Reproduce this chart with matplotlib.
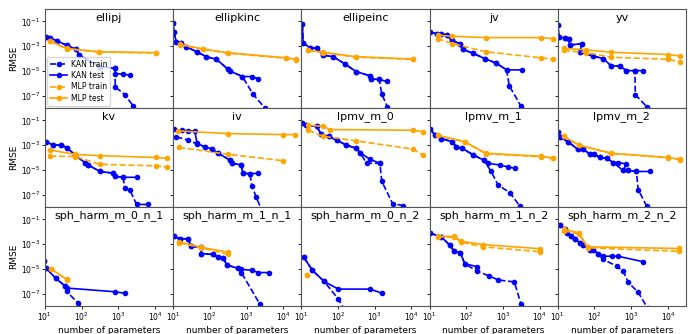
import matplotlib.pyplot as plt

# ---- data (number of parameters vs RMSE) ----
ellipj_kan_train_x = [11, 14, 21, 39, 72, 85, 316, 813, 830, 1510, 2570, 4500]
ellipj_kan_train_y = [5.6e-3, 4.7e-3, 2.7e-3, 1.2e-3, 5.4e-4, 1.9e-4, 2.2e-5, 1.6e-5, 5.0e-7, 1.2e-7, 1.4e-8, 1e-9]
ellipj_kan_test_x = [11, 14, 21, 39, 72, 85, 316, 813, 830, 1350, 2090]
ellipj_kan_test_y = [5.6e-3, 4.7e-3, 2.7e-3, 1.2e-3, 5.4e-4, 1.9e-4, 2.2e-5, 1.6e-5, 5.8e-6, 5.8e-6, 4.3e-6]
ellipj_mlp_train_x = [14, 39, 300, 10500]
ellipj_mlp_train_y = [2.5e-3, 6.0e-4, 3.3e-4, 2.8e-4]
ellipj_mlp_test_x = [14, 39, 300, 10500]
ellipj_mlp_test_y = [2.7e-3, 6.5e-4, 3.5e-4, 3.0e-4]

ellipkinc_kan_train_x = [10, 10.5, 12.3, 16, 23, 44, 81, 151, 316, 347, 776, 1480, 3160, 5000]
ellipkinc_kan_train_y = [7.9e-2, 1.4e-2, 2.2e-3, 1.8e-3, 8.9e-4, 3.5e-4, 1.4e-4, 8.7e-5, 1.35e-5, 1.0e-5, 3.5e-6, 1.4e-7, 1e-8, 1e-9]
ellipkinc_kan_test_x = [10, 10.5, 12.3, 16, 23, 44, 81, 151, 316, 347, 776, 1380, 2090]
ellipkinc_kan_test_y = [7.9e-2, 1.4e-2, 2.2e-3, 1.8e-3, 8.9e-4, 3.5e-4, 1.4e-4, 8.7e-5, 1.35e-5, 1.0e-5, 3.5e-6, 3.5e-6, 2.3e-6]
ellipkinc_mlp_train_x = [15, 66, 316, 11700, 22400]
ellipkinc_mlp_train_y = [1.3e-3, 5.5e-4, 2.7e-4, 1.05e-4, 8.0e-5]
ellipkinc_mlp_test_x = [15, 66, 316, 11700, 22400]
ellipkinc_mlp_test_y = [1.4e-3, 5.8e-4, 2.9e-4, 1.15e-4, 8.7e-5]

ellipeinc_kan_train_x = [10.7, 11.2, 17, 27, 39, 74, 155, 309, 741, 813, 1320, 1550, 2190, 3500]
ellipeinc_kan_train_y = [6.5e-2, 1.9e-3, 7.4e-4, 6.5e-4, 1.9e-4, 1.4e-4, 3.6e-5, 8.9e-6, 4.0e-6, 2.1e-6, 2.1e-6, 1.4e-7, 1.3e-8, 1e-9]
ellipeinc_kan_test_x = [10.7, 11.2, 17, 27, 39, 74, 155, 309, 741, 813, 1320, 2090]
ellipeinc_kan_test_y = [6.5e-2, 1.9e-3, 7.4e-4, 6.5e-4, 1.9e-4, 1.4e-4, 3.6e-5, 8.9e-6, 4.0e-6, 2.1e-6, 2.1e-6, 1.4e-6]
ellipeinc_mlp_train_x = [15.5, 39, 309, 10700]
ellipeinc_mlp_train_y = [4.5e-4, 3.0e-4, 1.3e-4, 8.5e-5]
ellipeinc_mlp_test_x = [15.5, 39, 309, 10700]
ellipeinc_mlp_test_y = [4.8e-4, 3.2e-4, 1.4e-4, 9.1e-5]

jv_kan_train_x = [10, 15.5, 21, 29, 40, 66, 81, 155, 316, 661, 1260, 1480, 3090, 5000]
jv_kan_train_y = [1.4e-2, 1.0e-2, 1.0e-2, 8.5e-3, 3.0e-3, 1.6e-3, 5.4e-4, 2.6e-4, 1.0e-4, 4.1e-5, 1.2e-5, 6.3e-7, 1.4e-8, 1e-9]
jv_kan_test_x = [10, 15.5, 21, 29, 40, 66, 81, 155, 316, 661, 1260, 3390]
jv_kan_test_y = [1.4e-2, 1.0e-2, 1.0e-2, 8.5e-3, 3.0e-3, 1.6e-3, 5.4e-4, 2.6e-4, 1.0e-4, 4.1e-5, 1.2e-5, 1.2e-5]
jv_mlp_train_x = [16.6, 42, 339, 10700, 22400]
jv_mlp_train_y = [4.1e-3, 1.6e-3, 3.5e-4, 1.15e-4, 8.7e-5]
jv_mlp_test_x = [16.6, 42, 339, 10700, 22400]
jv_mlp_test_y = [7.6e-3, 6.3e-3, 4.9e-3, 4.9e-3, 4.1e-3]

yv_kan_train_x = [10, 11, 15.5, 20, 21, 45, 40, 91, 170, 288, 490, 741, 1260, 1290, 2630, 4000]
yv_kan_train_y = [4.8e-2, 5.5e-3, 4.2e-3, 3.5e-3, 1.2e-3, 1.6e-3, 3.2e-4, 1.6e-4, 1.0e-4, 2.5e-5, 2.5e-5, 1.05e-5, 1.05e-5, 1.2e-7, 1.3e-8, 1e-9]
yv_kan_test_x = [10, 11, 15.5, 20, 21, 45, 40, 91, 170, 288, 490, 741, 1260, 2090]
yv_kan_test_y = [4.8e-2, 5.5e-3, 4.2e-3, 3.5e-3, 1.2e-3, 1.6e-3, 3.2e-4, 1.6e-4, 1.0e-4, 2.5e-5, 2.5e-5, 1.05e-5, 1.05e-5, 1.05e-5]
yv_mlp_train_x = [14.5, 60, 288, 10000, 20900]
yv_mlp_train_y = [4.5e-4, 3.0e-4, 1.26e-4, 8.7e-5, 5.5e-5]
yv_mlp_test_x = [14.5, 60, 288, 10000, 20900]
yv_mlp_test_y = [6.5e-4, 5.0e-4, 3.2e-4, 2.1e-4, 1.6e-4]

kv_kan_train_x = [10.7, 17, 28, 40, 66, 123, 151, 316, 724, 813, 1350, 1510, 2090, 3160, 6600]
kv_kan_train_y = [1.9e-3, 1.0e-3, 1.0e-3, 6.3e-4, 1.6e-4, 3.9e-5, 2.5e-5, 7.4e-6, 5.4e-6, 3.0e-6, 2.5e-6, 3.4e-7, 2.2e-7, 1.6e-8, 1.6e-8]
kv_kan_test_x = [10.7, 17, 28, 40, 66, 123, 151, 316, 724, 813, 1350, 3310]
kv_kan_test_y = [1.9e-3, 1.0e-3, 1.0e-3, 6.3e-4, 1.6e-4, 3.9e-5, 2.5e-5, 7.4e-6, 5.4e-6, 3.0e-6, 2.5e-6, 2.5e-6]
kv_mlp_train_x = [14, 66, 316, 10500, 20900]
kv_mlp_train_y = [1.3e-4, 1.2e-4, 2.8e-5, 2.1e-5, 1.7e-5]
kv_mlp_test_x = [14, 66, 316, 10500, 20900]
kv_mlp_test_y = [4.0e-4, 1.8e-4, 1.4e-4, 1.0e-4, 8.5e-5]

iv_kan_train_x = [12.3, 26, 45, 72, 112, 170, 347, 398, 724, 794, 1230, 1410, 1820, 2820]
iv_kan_train_y = [4.7e-3, 2.5e-3, 1.26e-3, 7.4e-4, 5.0e-4, 2.2e-4, 6.3e-5, 3.4e-5, 2.5e-5, 5.4e-6, 4.8e-6, 5.2e-7, 6.6e-8, 3.2e-9]
iv_kan_test_x = [10.5, 17, 26, 39, 45, 72, 112, 170, 347, 398, 724, 794, 1230, 2090]
iv_kan_test_y = [1.9e-2, 1.6e-2, 1.4e-2, 1.4e-2, 1.4e-3, 7.4e-4, 5.0e-4, 2.2e-4, 6.3e-5, 3.4e-5, 2.5e-5, 5.4e-6, 4.8e-6, 5.4e-6]
iv_mlp_train_x = [14.5, 316, 10000]
iv_mlp_train_y = [6.5e-4, 1.8e-4, 5.5e-5]
iv_mlp_test_x = [14, 316, 10000, 20900]
iv_mlp_test_y = [1.4e-2, 8.5e-3, 7.1e-3, 7.1e-3]

lpmv0_kan_train_x = [10.7, 13.8, 26, 35, 56, 91, 170, 316, 398, 603, 1380, 1550, 3090, 6030]
lpmv0_kan_train_y = [6.2e-2, 4.0e-2, 3.3e-2, 7.6e-3, 5.0e-3, 2.5e-3, 1.0e-3, 5.4e-4, 2.5e-4, 3.4e-5, 3.4e-5, 1.2e-6, 1.8e-8, 1.3e-8]
lpmv0_kan_test_x = [10.7, 13.8, 26, 35, 56, 91, 170, 316, 398, 741, 1380]
lpmv0_kan_test_y = [6.2e-2, 4.0e-2, 3.3e-2, 7.6e-3, 5.0e-3, 2.5e-3, 1.0e-3, 5.4e-4, 2.5e-4, 7.1e-5, 3.4e-5]
lpmv0_mlp_train_x = [15.5, 39, 309, 10700, 20900]
lpmv0_mlp_train_y = [1.6e-2, 5.2e-3, 2.2e-3, 4.8e-4, 1.6e-4]
lpmv0_mlp_test_x = [15.5, 39, 60, 10700, 20900]
lpmv0_mlp_test_y = [4.0e-2, 3.3e-2, 1.8e-2, 1.6e-2, 1.2e-2]

lpmv1_kan_train_x = [10, 14.5, 21, 41, 54, 79, 155, 295, 479, 724, 1550, 2880, 5000]
lpmv1_kan_train_y = [2.1e-2, 6.3e-3, 3.4e-3, 1.9e-3, 7.4e-4, 5.4e-4, 1.6e-4, 6.3e-5, 7.4e-6, 6.3e-7, 1.35e-7, 1.2e-8, 1e-9]
lpmv1_kan_test_x = [10, 14.5, 21, 41, 54, 79, 155, 295, 380, 813, 1380, 2090]
lpmv1_kan_test_y = [2.1e-2, 6.3e-3, 3.4e-3, 1.9e-3, 7.4e-4, 5.4e-4, 1.6e-4, 6.3e-5, 3.4e-5, 2.5e-5, 1.7e-5, 1.35e-5]
lpmv1_mlp_train_x = [16.6, 91, 339, 11000, 22400]
lpmv1_mlp_train_y = [6.0e-3, 1.8e-3, 2.0e-4, 1.15e-4, 8.5e-5]
lpmv1_mlp_test_x = [16.6, 91, 339, 11000, 22400]
lpmv1_mlp_test_y = [6.3e-3, 1.9e-3, 2.2e-4, 1.26e-4, 9.1e-5]

lpmv2_kan_train_x = [10, 11.2, 19, 35, 50, 74, 100, 138, 214, 324, 603, 832, 1380, 1550, 2630, 3980]
lpmv2_kan_train_y = [1.2e-2, 4.7e-3, 1.9e-3, 4.5e-4, 4.5e-4, 1.9e-4, 1.8e-4, 1.0e-4, 8.5e-5, 3.9e-5, 8.9e-6, 8.9e-6, 7.4e-6, 2.5e-7, 1.2e-8, 1e-9]
lpmv2_kan_test_x = [10, 11.2, 19, 35, 50, 74, 100, 138, 214, 324, 447, 741, 603, 832, 1380, 3310]
lpmv2_kan_test_y = [1.2e-2, 4.7e-3, 1.9e-3, 4.5e-4, 4.5e-4, 1.9e-4, 1.8e-4, 1.0e-4, 8.5e-5, 3.9e-5, 3.9e-5, 3.0e-5, 8.9e-6, 8.9e-6, 7.4e-6, 7.4e-6]
lpmv2_mlp_train_x = [14.5, 38, 288, 10000, 20900]
lpmv2_mlp_train_y = [5.0e-3, 9.5e-4, 2.1e-4, 9.5e-5, 6.8e-5]
lpmv2_mlp_test_x = [14.5, 38, 288, 10000, 20900]
lpmv2_mlp_test_y = [5.2e-3, 1.0e-3, 2.2e-4, 1.0e-4, 7.1e-5]

sph01_kan_train_x = [9.5, 10.5, 20, 35, 39, 81, 150]
sph01_kan_train_y = [4.2e-5, 1.26e-5, 1.7e-6, 4.2e-7, 1.5e-7, 1.7e-8, 1e-9]
sph01_kan_test_x = [9.5, 10.5, 20, 35, 39, 813, 1510]
sph01_kan_test_y = [4.2e-5, 1.26e-5, 1.7e-6, 4.2e-7, 2.8e-7, 1.4e-7, 1.05e-7]
sph01_mlp_train_x = [14.5, 39]
sph01_mlp_train_y = [1.0e-5, 1.35e-6]
sph01_mlp_test_x = [14.5, 39]
sph01_mlp_test_y = [1.05e-5, 1.45e-6]

sph11_kan_train_x = [10.5, 15, 26, 30, 59, 59, 123, 166, 229, 295, 589, 724, 2290, 3980]
sph11_kan_train_y = [4.2e-3, 2.8e-3, 2.6e-3, 6.6e-4, 5.5e-4, 1.7e-4, 1.45e-4, 8.7e-5, 7.9e-5, 2.0e-5, 1.1e-5, 5.0e-6, 1.45e-8, 1e-9]
sph11_kan_test_x = [10.5, 15, 26, 30, 59, 59, 123, 166, 229, 295, 589, 724, 1380, 2090, 4170]
sph11_kan_test_y = [4.2e-3, 2.8e-3, 2.6e-3, 6.6e-4, 5.5e-4, 1.7e-4, 1.45e-4, 8.7e-5, 7.9e-5, 2.0e-5, 1.1e-5, 9.1e-6, 7.6e-6, 5.0e-6, 5.0e-6]
sph11_mlp_train_x = [14.5, 59, 316]
sph11_mlp_train_y = [1.26e-3, 5.0e-4, 1.45e-4]
sph11_mlp_test_x = [14.5, 59, 316]
sph11_mlp_test_y = [1.5e-3, 5.5e-4, 2.2e-4]

sph02_kan_train_x = [11.7, 20, 42, 102, 180]
sph02_kan_train_y = [8.7e-5, 7.6e-6, 9.5e-7, 3.6e-8, 2e-9]
sph02_kan_test_x = [11.7, 20, 42, 102, 741, 1550]
sph02_kan_test_y = [8.7e-5, 7.6e-6, 9.5e-7, 2.3e-7, 2.3e-7, 1.1e-7]
sph02_mlp_train_x = [14.5]
sph02_mlp_train_y = [3.2e-6]
sph02_mlp_test_x = [14.5]
sph02_mlp_test_y = [3.2e-6]

sph12_kan_train_x = [10, 21, 36, 47, 69, 91, 195, 427, 741, 2040, 3090, 5000]
sph12_kan_train_y = [7.9e-3, 3.8e-3, 7.9e-4, 2.6e-4, 2.0e-4, 2.6e-5, 6.6e-6, 2.6e-6, 1.26e-6, 8.7e-7, 1.45e-8, 1e-9]
sph12_kan_test_x = [10, 21, 36, 47, 69, 91, 195]
sph12_kan_test_y = [7.9e-3, 3.8e-3, 7.9e-4, 2.6e-4, 2.0e-4, 2.6e-5, 1.5e-5]
sph12_mlp_train_x = [16.6, 47, 74, 290, 10500]
sph12_mlp_train_y = [4.0e-3, 3.5e-3, 1.4e-3, 6.0e-4, 2.4e-4]
sph12_mlp_test_x = [16.6, 47, 74, 290, 10500]
sph12_mlp_test_y = [4.2e-3, 4.2e-3, 1.66e-3, 9.1e-4, 4.2e-4]

sph22_kan_train_x = [11.2, 15.5, 17.8, 23, 29, 40, 49, 74, 91, 126, 170, 398, 603, 832, 1550, 2820]
sph22_kan_train_y = [3.6e-2, 1.7e-2, 7.9e-3, 4.2e-3, 2.8e-3, 1.26e-3, 9.1e-4, 3.6e-4, 3.6e-4, 1.7e-4, 5.8e-5, 1.7e-5, 6.6e-6, 7.9e-7, 1.26e-7, 6.3e-9]
sph22_kan_test_x = [11.2, 15.5, 17.8, 23, 29, 40, 49, 74, 91, 126, 170, 309, 437, 2040]
sph22_kan_test_y = [3.6e-2, 1.7e-2, 7.9e-3, 4.2e-3, 2.8e-3, 1.26e-3, 9.1e-4, 3.6e-4, 3.6e-4, 1.7e-4, 1.05e-4, 1.05e-4, 1.05e-4, 3.8e-5]
sph22_mlp_train_x = [14.5, 38, 65, 20000]
sph22_mlp_train_y = [1.2e-2, 6.3e-3, 5.0e-4, 2.6e-4]
sph22_mlp_test_x = [14.5, 38, 65, 20000]
sph22_mlp_test_y = [1.7e-2, 7.9e-3, 6.0e-4, 4.4e-4]

titles = ["ellipj", "ellipkinc", "ellipeinc", "jv", "yv",
          "kv", "iv", "lpmv_m_0", "lpmv_m_1", "lpmv_m_2",
          "sph_harm_m_0_n_1", "sph_harm_m_1_n_1", "sph_harm_m_0_n_2",
          "sph_harm_m_1_n_2", "sph_harm_m_2_n_2"]

series = [
    (ellipj_kan_train_x, ellipj_kan_train_y, ellipj_kan_test_x, ellipj_kan_test_y,
     ellipj_mlp_train_x, ellipj_mlp_train_y, ellipj_mlp_test_x, ellipj_mlp_test_y),
    (ellipkinc_kan_train_x, ellipkinc_kan_train_y, ellipkinc_kan_test_x, ellipkinc_kan_test_y,
     ellipkinc_mlp_train_x, ellipkinc_mlp_train_y, ellipkinc_mlp_test_x, ellipkinc_mlp_test_y),
    (ellipeinc_kan_train_x, ellipeinc_kan_train_y, ellipeinc_kan_test_x, ellipeinc_kan_test_y,
     ellipeinc_mlp_train_x, ellipeinc_mlp_train_y, ellipeinc_mlp_test_x, ellipeinc_mlp_test_y),
    (jv_kan_train_x, jv_kan_train_y, jv_kan_test_x, jv_kan_test_y,
     jv_mlp_train_x, jv_mlp_train_y, jv_mlp_test_x, jv_mlp_test_y),
    (yv_kan_train_x, yv_kan_train_y, yv_kan_test_x, yv_kan_test_y,
     yv_mlp_train_x, yv_mlp_train_y, yv_mlp_test_x, yv_mlp_test_y),
    (kv_kan_train_x, kv_kan_train_y, kv_kan_test_x, kv_kan_test_y,
     kv_mlp_train_x, kv_mlp_train_y, kv_mlp_test_x, kv_mlp_test_y),
    (iv_kan_train_x, iv_kan_train_y, iv_kan_test_x, iv_kan_test_y,
     iv_mlp_train_x, iv_mlp_train_y, iv_mlp_test_x, iv_mlp_test_y),
    (lpmv0_kan_train_x, lpmv0_kan_train_y, lpmv0_kan_test_x, lpmv0_kan_test_y,
     lpmv0_mlp_train_x, lpmv0_mlp_train_y, lpmv0_mlp_test_x, lpmv0_mlp_test_y),
    (lpmv1_kan_train_x, lpmv1_kan_train_y, lpmv1_kan_test_x, lpmv1_kan_test_y,
     lpmv1_mlp_train_x, lpmv1_mlp_train_y, lpmv1_mlp_test_x, lpmv1_mlp_test_y),
    (lpmv2_kan_train_x, lpmv2_kan_train_y, lpmv2_kan_test_x, lpmv2_kan_test_y,
     lpmv2_mlp_train_x, lpmv2_mlp_train_y, lpmv2_mlp_test_x, lpmv2_mlp_test_y),
    (sph01_kan_train_x, sph01_kan_train_y, sph01_kan_test_x, sph01_kan_test_y,
     sph01_mlp_train_x, sph01_mlp_train_y, sph01_mlp_test_x, sph01_mlp_test_y),
    (sph11_kan_train_x, sph11_kan_train_y, sph11_kan_test_x, sph11_kan_test_y,
     sph11_mlp_train_x, sph11_mlp_train_y, sph11_mlp_test_x, sph11_mlp_test_y),
    (sph02_kan_train_x, sph02_kan_train_y, sph02_kan_test_x, sph02_kan_test_y,
     sph02_mlp_train_x, sph02_mlp_train_y, sph02_mlp_test_x, sph02_mlp_test_y),
    (sph12_kan_train_x, sph12_kan_train_y, sph12_kan_test_x, sph12_kan_test_y,
     sph12_mlp_train_x, sph12_mlp_train_y, sph12_mlp_test_x, sph12_mlp_test_y),
    (sph22_kan_train_x, sph22_kan_train_y, sph22_kan_test_x, sph22_kan_test_y,
     sph22_mlp_train_x, sph22_mlp_train_y, sph22_mlp_test_x, sph22_mlp_test_y),
]

KAN_COLOR = 'blue'
MLP_COLOR = 'orange'

fig, axes = plt.subplots(3, 5, figsize=(7, 3.34), sharex=True, sharey=True)
fig.subplots_adjust(left=0.064, right=0.98, top=0.973, bottom=0.084,
                    wspace=0, hspace=0)

style = dict(marker='o', markersize=3, linewidth=1.2)

for i, (ax, title, s) in enumerate(zip(axes.flat, titles, series)):
    ktr_x, ktr_y, kte_x, kte_y, mtr_x, mtr_y, mte_x, mte_y = s
    ax.plot(ktr_x, ktr_y, '--', color=KAN_COLOR, label='KAN train', **style)
    ax.plot(kte_x, kte_y, '-', color=KAN_COLOR, label='KAN test', **style)
    ax.plot(mtr_x, mtr_y, '--', color=MLP_COLOR, label='MLP train', **style)
    ax.plot(mte_x, mte_y, '-', color=MLP_COLOR, label='MLP test', **style)

    ax.set_xscale('log')
    ax.set_yscale('log')
    ax.set_xlim(10, 3.1e4)
    ax.set_ylim(1e-8, 1)
    ax.set_yticks([1e-1, 1e-3, 1e-5, 1e-7])
    ax.set_xticks([1e1, 1e2, 1e3, 1e4])
    ax.minorticks_off()
    # only the outer column / row carry tick labels
    ax.tick_params(labelsize=5.5, length=2, width=0.6, pad=1.5,
                   labelleft=(i % 5 == 0), labelbottom=(i >= 10))
    for spine in ax.spines.values():
        spine.set_color('#555555')
        spine.set_linewidth(0.8)

    ax.text(0.5, 0.91, title, transform=ax.transAxes, ha='center',
            va='center', fontsize=8)

    if i % 5 == 0:
        ax.set_ylabel('RMSE', fontsize=6.5, labelpad=2)
    if i >= 10:
        ax.set_xlabel('number of parameters', fontsize=6.5, labelpad=2)

axes[0, 0].legend(loc='lower left', fontsize=5.5, handlelength=2.2,
                  borderpad=0.4, labelspacing=0.3, handletextpad=0.5,
                  borderaxespad=0.3)

fig.savefig('out.png', dpi=100)
